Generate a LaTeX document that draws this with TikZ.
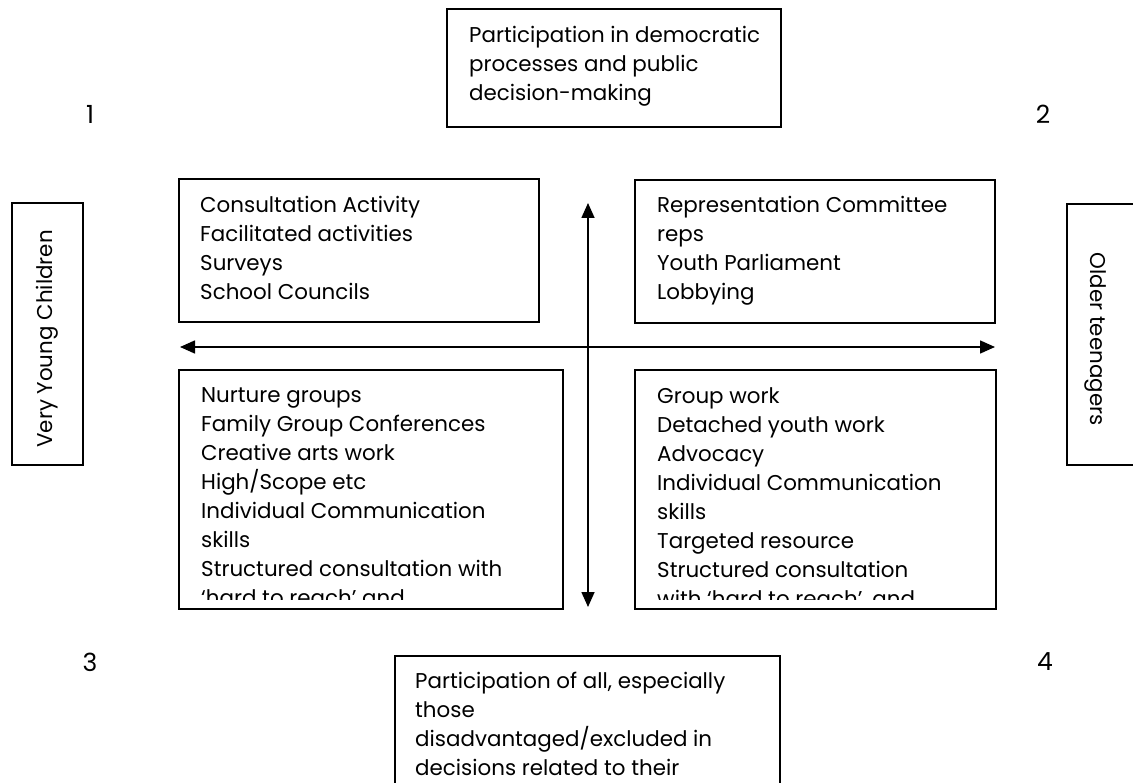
\documentclass[tikz,border=0pt]{standalone}
\usepackage{fontspec}
\setmainfont{Poppins}
\usetikzlibrary{arrows.meta}
\tikzset{
	box/.style={draw, line width=1.2pt},
	txt/.style={anchor=north west, align=left, inner sep=0pt, font=\fontsize{21.4}{29}\selectfont},
	num/.style={inner sep=0pt, font=\fontsize{25}{29}\selectfont},
	axis/.style={line width=1.6pt, {Triangle[length=15pt,width=13pt]}-{Triangle[length=15pt,width=13pt]}}
}

\begin{document}
\begin{tikzpicture}[x=1pt, y=-1pt]
		%%%%% START %%%%%
		\useasboundingbox (0, 0) rectangle (1133, 783);
		\clip (0, 0) rectangle (1133, 783);
		
		\node[num] (one) at (90, 114) {1};
		\node[num] (two) at (1043, 114) {2};
		\node[num] (three) at (90, 662) {3};
		\node[num] (four) at (1045, 662) {4};
		
		\node[txt] (democratic) at (469, 26) {Participation in democratic\\processes and public\\decision-making};
		\draw[box] (447, 9) rectangle (781, 127);
		
		\node[txt, anchor=center, rotate=90] (young) at (47, 339) {Very Young Children};
		\draw[box] (12, 203) rectangle (83, 465);
		\node[txt, anchor=center, rotate=-90] (older) at (1096, 339) {Older teenagers};
		\draw[box] (1067, 204) rectangle (1150, 465);
		
		\node[txt] (consult) at (200, 196) {Consultation Activity\\Facilitated activities\\Surveys\\School Councils};
		\draw[box] (179, 179) rectangle (539, 322);
		
		\node[txt] (represent) at (657, 196) {Representation Committee\\reps\\Youth Parliament\\Lobbying};
		\draw[box] (635, 180) rectangle (995, 323);
		
		\begin{scope}
			\clip (179, 370) rectangle (563, 599);
			\node[txt] (nurture) at (201, 387) {Nurture groups\\Family Group Conferences\\Creative arts work\\High/Scope etc\\Individual Communication\\skills\\Structured consultation with\\‘hard to reach’ and};
		\end{scope}
		\draw[box] (179, 370) rectangle (563, 609);
		
		\begin{scope}
			\clip (635, 370) rectangle (996, 599);
			\node[txt] (groupwork) at (657, 387) {Group work\\Detached youth work\\Advocacy\\Individual Communication\\skills\\Targeted resource\\Structured consultation\\with ‘hard to reach’, and};
		\end{scope}
		\draw[box] (635, 370) rectangle (996, 609);
		
		\node[txt] (all) at (415, 672) {Participation of all, especially\\those\\disadvantaged/excluded in\\decisions related to their};
		\draw[box] (395, 656) rectangle (780, 800);
		
		\coordinate (west) at (180, 347);
		\coordinate (east) at (995, 347);
		\coordinate (north) at (588, 203);
		\coordinate (south) at (588, 607);
		\draw[axis] (west) -- (east);
		\draw[axis] (north) -- (south);
		%%%%% END %%%%%
	\end{tikzpicture}
\end{document}
